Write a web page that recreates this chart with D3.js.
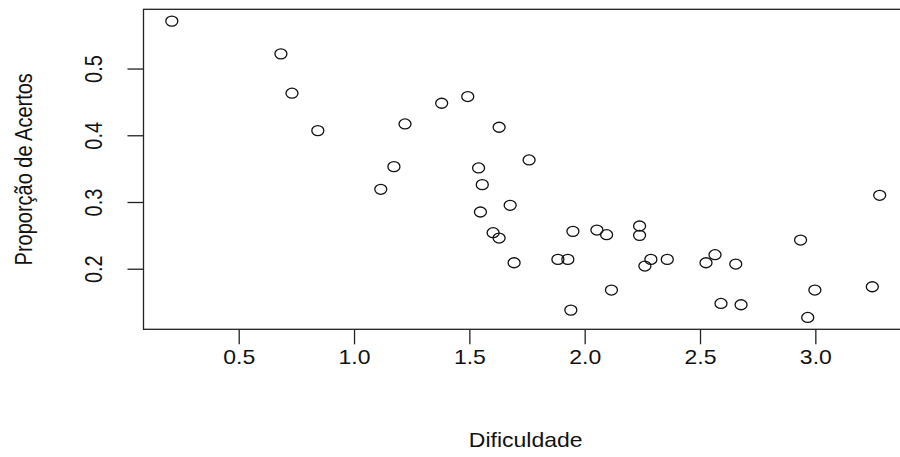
<!DOCTYPE html>
<html>
<head>
<meta charset="utf-8">
<script src="https://cdn.jsdelivr.net/npm/d3@7"></script>
<style>
  body { margin: 0; background: #fff; }
  text { font-family: Arial, "Liberation Sans", sans-serif; fill: #111; }
</style>
</head>
<body>
<div id="chart"></div>
<script>
// values
const dificuldade = [0.210, 0.683, 0.731, 0.843, 1.116, 1.173, 1.221, 1.380, 1.493, 1.540,
    1.556, 1.548, 1.603, 1.629, 1.629, 1.677, 1.694, 1.759, 1.884, 1.927,
    1.949, 1.940, 2.053, 2.095, 2.116, 2.238, 2.238, 2.261, 2.287, 2.358,
    2.526, 2.565, 2.591, 2.655, 2.678, 2.936, 2.967, 2.998, 3.247, 3.279];
const proporcao = [0.571, 0.522, 0.463, 0.407, 0.319, 0.353, 0.417, 0.448, 0.458, 0.351,
    0.326, 0.285, 0.254, 0.246, 0.412, 0.295, 0.209, 0.363, 0.214, 0.214,
    0.256, 0.138, 0.258, 0.251, 0.168, 0.264, 0.250, 0.204, 0.214, 0.214,
    0.209, 0.221, 0.148, 0.207, 0.146, 0.243, 0.127, 0.168, 0.173, 0.310];
const xTicks = [0.5, 1.0, 1.5, 2.0, 2.5, 3.0];
const yTicks = [0.2, 0.3, 0.4, 0.5];
const xLabel = 'Dificuldade';
const yLabel = 'Proporção de Acertos';

const width = 900, height = 457;
const margin = { top: 9.3, right: -8, bottom: 127.7, left: 143.5 };
const stretch = 1.15; // the reference is a bit wider than tall

const points = dificuldade.map((d, i) => ({ x: d, y: proporcao[i] }));

// R style: extend the data range 4% on each side
function padded(values) {
    const [lo, hi] = d3.extent(values);
    const pad = (hi - lo) * 0.04;
    return [lo - pad, hi + pad];
}

const x = d3.scaleLinear()
    .domain(padded(dificuldade))
    .range([margin.left, width - margin.right]);

const y = d3.scaleLinear()
    .domain(padded(proporcao))
    .range([height - margin.bottom, margin.top]);

const svg = d3.select('#chart')
    .append('svg')
    .attr('width', width)
    .attr('height', height);

// x axis
const xAxis = svg.append('g')
    .attr('transform', `translate(0, ${y.range()[0]})`)
    .call(d3.axisBottom(x).tickValues(xTicks).tickFormat(d3.format('.1f')).tickSize(15));
xAxis.select('.domain').remove();
xAxis.selectAll('line').attr('stroke', '#222').attr('stroke-width', 1.3);
xAxis.selectAll('text')
    .attr('y', 35)
    .attr('dy', null)
    .attr('font-size', 20)
    .attr('fill', '#111')
    .attr('transform', `scale(${stretch},1)`);

// y axis, labels turned like R does by default
const yAxis = svg.append('g')
    .attr('transform', `translate(${x.range()[0]}, 0)`)
    .call(d3.axisLeft(y).tickValues(yTicks).tickFormat(d3.format('.1f')).tickSize(16));
yAxis.select('.domain').remove();
yAxis.selectAll('line').attr('stroke', '#222').attr('stroke-width', 1.3);
yAxis.selectAll('text')
    .attr('x', null)
    .attr('dy', null)
    .attr('text-anchor', 'middle')
    .attr('font-size', 20)
    .attr('fill', '#111')
    .attr('transform', `translate(-42, 0) scale(${stretch},1) rotate(-90)`);

// box round the plot region
svg.append('rect')
    .attr('x', x.range()[0])
    .attr('y', y.range()[1])
    .attr('width', x.range()[1] - x.range()[0])
    .attr('height', y.range()[0] - y.range()[1])
    .attr('fill', 'none')
    .attr('stroke', '#222')
    .attr('stroke-width', 1.3);

// open circles
svg.append('g')
    .selectAll('ellipse')
    .data(points)
    .join('ellipse')
    .attr('cx', d => x(d.x))
    .attr('cy', d => y(d.y))
    .attr('rx', 6)
    .attr('ry', 5)
    .attr('fill', 'none')
    .attr('stroke', '#111')
    .attr('stroke-width', 1.3);

// titles
const xMid = (x.range()[0] + x.range()[1]) / 2;
const yMid = (y.range()[0] + y.range()[1]) / 2;

svg.append('text')
    .attr('text-anchor', 'middle')
    .attr('font-size', 20)
    .attr('transform', `translate(${xMid}, 447) scale(${stretch},1)`)
    .text(xLabel);

svg.append('text')
    .attr('text-anchor', 'middle')
    .attr('font-size', 20)
    .attr('transform', `translate(32, ${yMid}) scale(${stretch},1) rotate(-90)`)
    .text(yLabel);
</script>
</body>
</html>
